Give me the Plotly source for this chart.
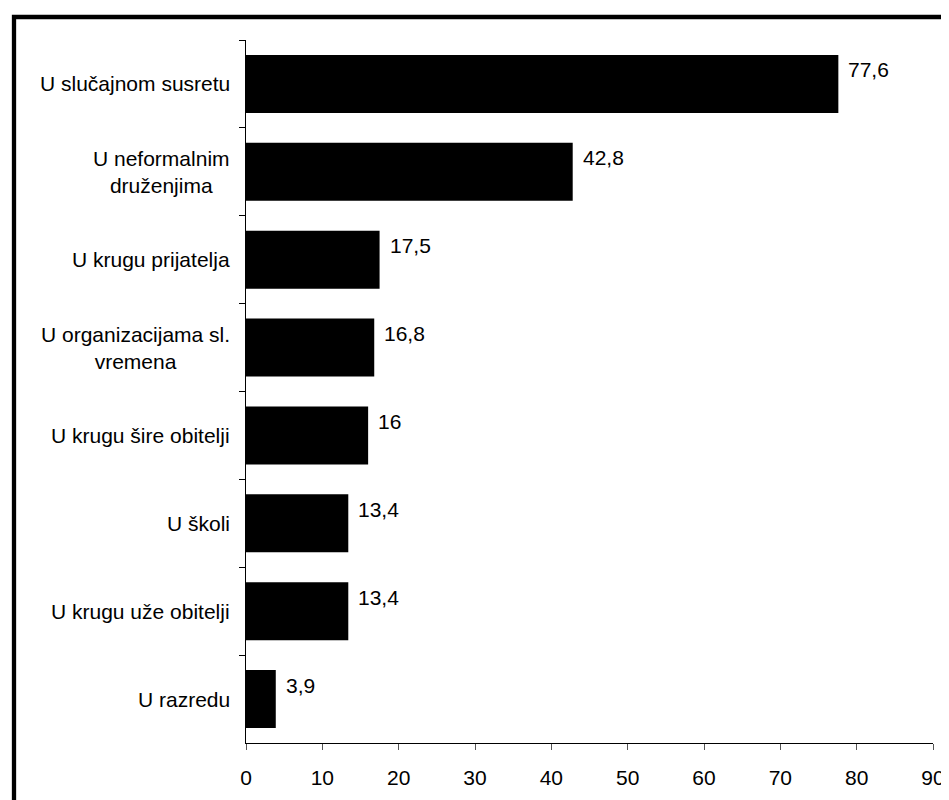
import plotly.graph_objects as go

# data
categories = [
    "U slučajnom susretu",
    "U neformalnim<br>druženjima",
    "U krugu prijatelja",
    "U organizacijama sl.<br>vremena",
    "U krugu šire obitelji",
    "U školi",
    "U krugu uže obitelji",
    "U razredu",
]
values = [77.6, 42.8, 17.5, 16.8, 16.0, 13.4, 13.4, 3.9]
x_ticks = [0, 10, 20, 30, 40, 50, 60, 70, 80, 90]

FONT = "Arial, Liberation Sans, sans-serif"

fig = go.Figure(go.Bar(
    x=values, y=categories, orientation="h",
    marker=dict(color="black", line=dict(width=0)),
    width=0.66,
))

# value labels, a bit above bar centre like the original
for cat, v in zip(categories, values):
    fig.add_annotation(x=v, y=cat, text=f"{v:g}".replace(".", ","),
                       xanchor="left", yanchor="middle", showarrow=False,
                       xshift=8, yshift=14, font=dict(size=21, color="black"))

# category labels (centred multi-line text)
for cat in categories:
    fig.add_annotation(x=0, xref="paper", y=cat, text=cat, align="center",
                       xanchor="right", yanchor="middle", showarrow=False,
                       xshift=-14, font=dict(size=21, color="black"))

# frame (only top and left edges fall inside the picture)
fig.add_shape(type="rect", xref="paper", yref="paper",
              x0=-0.3377, x1=1.3, y0=-0.3, y1=1.0327,
              line=dict(color="black", width=4.3), layer="above")

fig.update_layout(
    width=949, height=800,
    margin=dict(l=238, r=21, t=32, b=65),
    plot_bgcolor="white", paper_bgcolor="white",
    font=dict(family=FONT, size=21, color="black"),
    showlegend=False,
    xaxis=dict(range=[0, 90], tickvals=x_ticks, showgrid=False, zeroline=False,
               showline=True, linecolor="black", linewidth=1,
               ticks="outside", ticklen=6, tickcolor="#555", tickwidth=1,
               ticklabelstandoff=10, tickfont=dict(size=21)),
    yaxis=dict(autorange="reversed", showticklabels=False, showgrid=False,
               zeroline=False, showline=True, linecolor="black", linewidth=1,
               ticks="outside", ticklen=6, tickcolor="black", tickwidth=1,
               tickson="boundaries"),
)

fig.write_html("out.html")
